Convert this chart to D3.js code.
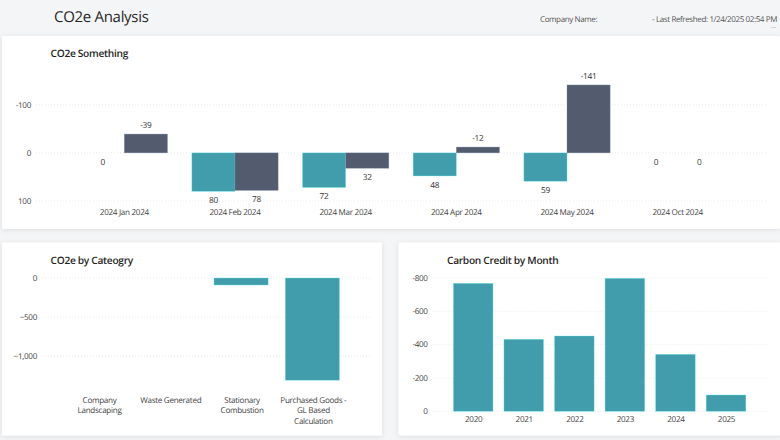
<!DOCTYPE html>
<html>
<head>
<meta charset="utf-8">
<script src="https://cdnjs.cloudflare.com/ajax/libs/d3/7.9.0/d3.min.js"></script>
<style>
  html, body { margin: 0; padding: 0; background: #f4f5f7; overflow: hidden; }
  svg { display: block; font-family: "Open Sans", sans-serif; text-rendering: geometricPrecision; }
  .tick-label { font-size: 8.1px; letter-spacing: -0.3px; fill: #3f3f3f; }
  .data-label { font-size: 8.3px; letter-spacing: -0.25px; fill: #333; text-anchor: middle; }
  .card-title { font-size: 10.2px; letter-spacing: -0.3px; font-weight: 600; fill: #1f1f1f; }
  .grid line { stroke: #e8eaec; stroke-dasharray: 1 2; }
</style>
</head>
<body>
<svg id="chart" width="780" height="440"></svg>
<script>
const months = ["2024 Jan 2024", "2024 Feb 2024", "2024 Mar 2024", "2024 Apr 2024", "2024 May 2024", "2024 Oct 2024"];
const tealValues = [0, 80, 72, 48, 59, 0];
const slateValues = [-39, 78, 32, -12, -141, 0];
const topTicks = [-100, 0, 100];

const categories = [["Company", "Landscaping"], ["Waste Generated"], ["Stationary", "Combustion"], ["Purchased Goods -", "GL Based", "Calculation"]];
const categoryValues = [0, 0, -90, -1306];
const categoryTicks = [0, -500, -1000];

const years = ["2020", "2021", "2022", "2023", "2024", "2025"];
const creditValues = [-768, -432, -452, -798, -342, -98];
const creditTicks = [-800, -600, -400, -200, 0];

const teal = "#419dab";
const slate = "#525c6e";

const svg = d3.select("#chart");

// cards first, everything else sits on top
const cards = [
  { x: 2, y: 36, w: 778, h: 193 },
  { x: 2, y: 242.5, w: 380, h: 193 },
  { x: 398.5, y: 242.5, w: 382, h: 193 }
];
const defs = svg.append("defs");
const shadow = defs.append("filter").attr("id", "shadow")
  .attr("x", "-5%").attr("y", "-5%").attr("width", "110%").attr("height", "112%");
shadow.append("feDropShadow").attr("dx", 0).attr("dy", 1).attr("stdDeviation", 2.5)
  .attr("flood-color", "#000").attr("flood-opacity", 0.1);

svg.selectAll("rect.card").data(cards).join("rect")
  .attr("class", "card")
  .attr("x", d => d.x).attr("y", d => d.y)
  .attr("width", d => d.w).attr("height", d => d.h)
  .attr("rx", 2).attr("fill", "#fff")
  .attr("filter", "url(#shadow)");

// header
svg.append("text").attr("x", 54).attr("y", 21.5)
  .attr("font-size", 15).attr("letter-spacing", "-0.3px").attr("fill", "#252525").text("CO2e Analysis");
svg.append("text").attr("x", 540).attr("y", 22)
  .attr("font-size", 8).attr("letter-spacing", "-0.38px").attr("fill", "#555").text("Company Name:");
svg.append("text").attr("x", 777).attr("y", 22).attr("text-anchor", "end")
  .attr("font-size", 8).attr("letter-spacing", "-0.38px").attr("fill", "#555").text("- Last Refreshed: 1/24/2025 02:54 PM");
// little dash under the refresh time
svg.append("line").attr("x1", 771).attr("x2", 776).attr("y1", 27.5).attr("y2", 27.5)
  .attr("stroke", "#c4c6c9").attr("stroke-width", 0.7);

function title(x, y, t) {
  svg.append("text").attr("class", "card-title").attr("x", x).attr("y", y).text(t);
}
title(50.5, 57, "CO2e Something");
title(50.5, 263.5, "CO2e by Cateogry");
title(447, 263.5, "Carbon Credit by Month");

function yGrid(scale, ticks, x0, x1, fmt) {
  const g = svg.append("g").attr("class", "grid");
  g.selectAll("line").data(ticks).join("line")
    .attr("x1", x0).attr("x2", x1)
    .attr("y1", d => scale(d)).attr("y2", d => scale(d));
  g.selectAll("text").data(ticks).join("text")
    .attr("class", "tick-label")
    .attr("x", x0 - 5).attr("y", d => scale(d)).attr("dy", "0.35em")
    .attr("text-anchor", "end")
    .text(fmt);
}

function barStyle(sel, color) {
  sel.attr("fill", color)
    .attr("stroke", d3.color(color).brighter(1.2))
    .attr("stroke-opacity", 0.45)
    .attr("stroke-width", 0.7);
}

// top chart: clustered bars, negative values go up
const y1 = d3.scaleLinear().domain([-100, 100]).range([104.7, 201]);
const x1 = d3.scaleBand().domain(months).range([69, 733]).paddingInner(0.22).paddingOuter(0.11);
const inner = d3.scaleBand().domain(["teal", "slate"]).range([0, x1.bandwidth()]);
yGrid(y1, topTicks, 36, 768, d => String(d));

const topSeries = [
  { key: "teal", color: teal, values: tealValues },
  { key: "slate", color: slate, values: slateValues }
];
topSeries.forEach(s => {
  const rows = months.map((m, i) => ({ m, v: s.values[i] }));
  svg.append("g").selectAll("rect").data(rows.filter(d => d.v !== 0)).join("rect")
    .attr("x", d => x1(d.m) + inner(s.key))
    .attr("width", inner.bandwidth())
    .attr("y", d => Math.min(y1(0), y1(d.v)))
    .attr("height", d => Math.abs(y1(d.v) - y1(0)))
    .call(barStyle, s.color);
  svg.append("g").selectAll("text").data(rows).join("text")
    .attr("class", "data-label")
    .attr("x", d => x1(d.m) + inner(s.key) + inner.bandwidth() / 2)
    .attr("y", d => d.v < 0 ? y1(d.v) - 8.5 : y1(d.v) + 9)
    .attr("dy", "0.35em")
    .text(d => d.v);
});
svg.append("g").selectAll("text").data(months).join("text")
  .attr("class", "tick-label").attr("text-anchor", "middle")
  .attr("x", d => x1(d) + x1.bandwidth() / 2).attr("y", 212.5).attr("dy", "0.35em")
  .text(d => d);

// bottom left
const y2 = d3.scaleLinear().domain([0, -1000]).range([278, 356.3]);
const x2 = d3.scaleBand().domain(d3.range(categories.length)).range([62.9, 348]).paddingInner(0.24).paddingOuter(0.12);
yGrid(y2, categoryTicks, 42, 370, d => d3.format(",")(d));
svg.append("g").selectAll("rect").data(categoryValues).join("rect")
  .attr("x", (d, i) => x2(i)).attr("width", x2.bandwidth())
  .attr("y", y2(0)).attr("height", d => y2(d) - y2(0))
  .call(barStyle, teal);
const catLabels = svg.append("g").selectAll("text").data(categories).join("text")
  .attr("class", "tick-label").attr("text-anchor", "middle");
catLabels.selectAll("tspan").data((d, i) => d.map(line => ({ line, i }))).join("tspan")
  .attr("x", d => x2(d.i) + x2.bandwidth() / 2 + 1)
  .attr("y", (d, j) => 403 + j * 10.3)
  .text(d => d.line);

// bottom right
const y3 = d3.scaleLinear().domain([0, -800]).range([411.3, 278]);
const x3 = d3.scaleBand().domain(years).range([447.9, 751.3]).paddingInner(0.216).paddingOuter(0.108);
yGrid(y3, creditTicks, 432.7, 767, d => String(d));
svg.append("g").selectAll("rect").data(creditValues).join("rect")
  .attr("x", (d, i) => x3(years[i])).attr("width", x3.bandwidth())
  .attr("y", d => y3(d)).attr("height", d => y3(0) - y3(d))
  .call(barStyle, teal);
svg.append("g").selectAll("text").data(years).join("text")
  .attr("class", "tick-label").attr("text-anchor", "middle")
  .attr("x", d => x3(d) + x3.bandwidth() / 2 + 0.5).attr("y", 419).attr("dy", "0.35em")
  .text(d => d);
</script>
</body>
</html>
